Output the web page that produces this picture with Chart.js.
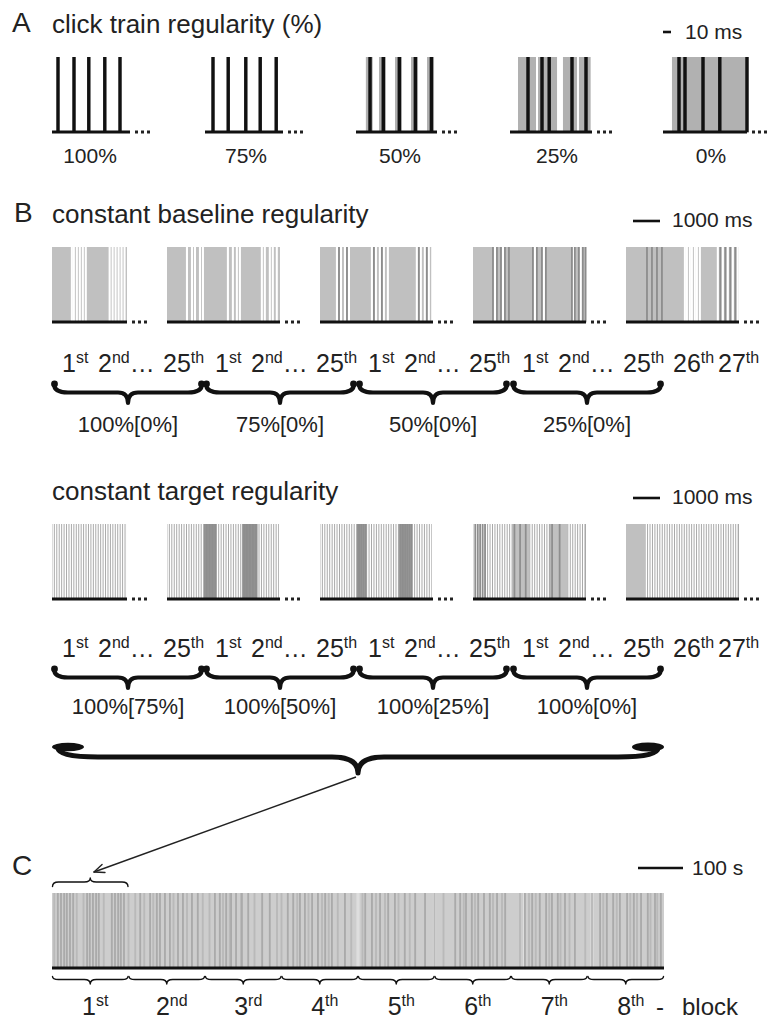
<!DOCTYPE html>
<html>
<head>
<meta charset="utf-8">
<script src="https://cdn.jsdelivr.net/npm/chart.js@4.4.0/dist/chart.umd.min.js"></script>
<style>
html, body { margin: 0; padding: 0; background: #fff; }
#page { position: relative; width: 770px; height: 1019px; overflow: hidden;
        font-family: "Liberation Sans", Arial, sans-serif; color: #222; }
.t { position: absolute; white-space: nowrap; line-height: 1; }
.c { transform: translateX(-50%); }
.t sup { font-size: 0.64em; vertical-align: 0; position: relative; top: -0.55em; }
canvas.train { position: absolute; }
svg { position: absolute; left: 0; top: 0; pointer-events: none; }
</style>
</head>
<body>
<div id="page"></div>
<script>
// ---- A: one click train per regularity level, times in ms ----
const regLevels = ['100%', '75%', '50%', '25%', '0%'];
const aDuration = [97.5, 97.5, 101, 102.5, 105];
const aClicks = [
    [7.5, 27.5, 46, 66, 85],
    [10, 29, 51, 69, 89],
    [17.5, 34, 54, 74, 94],
    [22.5, 40, 49, 77.5, 95],
    [20, 27.5, 50, 71, 105]
];
// grey = range the clicks can jitter in
const aJitter = [
    [],
    [],
    [[12, 21], [28.5, 37.5], [48.5, 57.5], [68.5, 77.5], [88.5, 97.5]],
    [[10, 32.5], [35, 59], [66, 84], [86, 101]],
    [[11, 105]]
];

// ---- B: trains in a block, times in ms ----
const groupTrains = ['1st', '2nd…', '25th'];
const extraTrains = ['26th', '27th'];
const bDuration = [2000, 3000, 3000, 3000, 3000];
const baselineGroups = ['100%[0%]', '75%[0%]', '50%[0%]', '25%[0%]'];
const targetGroups = ['100%[75%]', '100%[50%]', '100%[25%]', '100%[0%]'];

const baseWhite = [
    [530, 583, 663, 742, 822, 901, 1537, 1617, 1696, 1776, 1855, 1935],
    [530, 663, 742, 875, 954, 1617, 1749, 1855, 1935, 2518, 2597, 2730, 2809, 2915],
    [450, 557, 663, 769, 1378, 1484, 1590, 1696, 1802, 2571, 2677, 2783, 2889, 2980],
    [583, 795, 1643, 1882, 2677, 2862],
    [1564, 1617, 1696, 1749, 1829, 1882, 1961, 2438, 2571, 2703, 2836, 2968]
];
const baseDark = [
    [],
    [],
    [504, 716, 1431, 1643, 2624, 2836],
    [530, 636, 742, 848, 954, 1590, 1696, 1829, 1935, 2624, 2703, 2809, 2915, 2990],
    [557, 689, 822, 954, 2504, 2637, 2769, 2902]
];
const targetWhite = [
    [30, 95, 160, 225, 290, 355, 420, 485, 550, 615, 680, 745, 810, 875, 940, 1005, 1070, 1135, 1200, 1265,
     1330, 1395, 1460, 1525, 1590, 1655, 1720, 1785, 1850, 1915, 1980],
    [30, 95, 160, 225, 290, 355, 420, 485, 550, 615, 680, 745, 810, 875, 940, 1030, 1110, 1190, 1270, 1340,
     1405, 1470, 1535, 1600, 1665, 1730, 1795, 1860, 1925, 1990, 2410, 2475, 2540, 2605, 2670, 2735, 2800,
     2865, 2930, 2990],
    [30, 95, 160, 225, 290, 355, 420, 485, 550, 615, 680, 745, 810, 875, 940, 1270, 1335, 1400, 1465, 1530,
     1595, 1660, 1725, 1790, 1855, 1920, 1985, 2050, 2480, 2545, 2610, 2675, 2740, 2805, 2870, 2935, 2990],
    [30, 95, 160, 225, 290, 355, 420, 485, 550, 615, 680, 745, 810, 875, 940, 1005, 1540, 1605, 1670, 1735,
     1800, 1865, 1930, 1995, 2550, 2615, 2680, 2745, 2810, 2875, 2940],
    [540, 605, 670, 735, 800, 865, 930, 995, 1060, 1125, 1190, 1255, 1320, 1385, 1450, 1515, 1580, 1645,
     1710, 1775, 1840, 1905, 1970, 2035, 2100, 2165, 2230, 2295, 2360, 2425, 2490, 2555, 2620, 2685, 2750,
     2815, 2880, 2945]
];
const targetDark = [
    [],
    [1010, 1050, 1090, 1130, 1170, 1210, 1250, 1290, 2020, 2060, 2100, 2140, 2180, 2220, 2260, 2300, 2340, 2380],
    [1010, 1060, 1110, 1160, 1210, 2130, 2180, 2230, 2280, 2330, 2380, 2430],
    [60, 125, 190, 255, 320, 1100, 1250, 1400, 2100, 2300],
    []
];
// grey blocks within the target trains that look like plain 0% segments
const targetSolid = [[], [], [], [[1040, 1510], [2050, 2520]], [[0, 510]]];

// ---- C: whole session, times in s ----
const blockNames = ['1st', '2nd', '3rd', '4th', '5th', '6th', '7th', '8th'];
const blockLen = 170;
const cDark = [13, 20, 27, 33, 40, 47, 78, 84, 91, 98, 104, 133, 140, 147, 153, 160, 196, 218, 233, 240,
    251, 262, 280, 291, 311, 324, 362, 373, 387, 398, 409, 422, 436, 467, 484, 524, 536, 551, 562, 578, 591,
    607, 622, 651, 696, 711, 729, 747, 762, 784, 807, 829, 896, 907, 920, 933, 947, 960, 973, 989, 1007,
    1051, 1067, 1084, 1098, 1111, 1124, 1140, 1162, 1218, 1233, 1247, 1262, 1278, 1293, 1309, 1324, 1340, 1353];
const cMid = [5, 55, 70, 115, 170, 185, 205, 225, 270, 300, 335, 350, 380, 395, 420, 450, 500, 510, 545, 570,
    600, 615, 635, 665, 690, 720, 740, 770, 795, 850, 870, 915, 940, 980, 1000, 1040, 1060, 1075, 1105, 1130,
    1150, 1185, 1200, 1225, 1255, 1285, 1300, 1330, 1345];
const cLight = [680, 850, 1050, 1200];

// ---------------------------------------------------------------
const page = document.getElementById('page');
const svgParts = [];

function sup(label) {
    return label.replace(/^(\d+)(st|nd|rd|th)/, '$1<sup>$2</sup>');
}

function addText(html, x, baseline, size, center) {
    const d = document.createElement('div');
    d.className = 't' + (center ? ' c' : '');
    d.style.fontSize = size + 'px';
    d.style.left = x + 'px';
    d.style.top = (baseline - 0.8465 * size) + 'px';
    d.innerHTML = html;
    page.appendChild(d);
}

function lineBars(times, color, thickness, order) {
    return {
        type: 'bar',
        data: times.map(t => ({ x: t, y: 1 })),
        backgroundColor: color,
        barThickness: thickness,
        grouped: false,
        borderWidth: 0,
        order: order,
        clip: false
    };
}

function rangeFill(r, color, order) {
    return {
        type: 'line', data: [{ x: r[0], y: 1 }, { x: r[1], y: 1 }], fill: 'origin',
        backgroundColor: color, borderColor: color, borderWidth: 0.01,
        pointRadius: 0, order: order
    };
}

function trainChart(spec) {
    const cv = document.createElement('canvas');
    cv.className = 'train';
    cv.width = spec.width + 4;
    cv.height = spec.height + 3;
    cv.style.left = (spec.left - 2) + 'px';
    cv.style.top = spec.top + 'px';
    page.appendChild(cv);

    const datasets = [];
    (spec.ranges || []).forEach(r => datasets.push(rangeFill(r, spec.fill, 7)));
    if (spec.light) datasets.push(lineBars(spec.light, spec.lightColor, spec.lightWidth, 6));
    if (spec.mid) datasets.push(lineBars(spec.mid, '#b9b9b9', 1.2, 5));
    if (spec.white) datasets.push(lineBars(spec.white, '#ffffff', spec.whiteWidth || 1.4, 4));
    (spec.solid || []).forEach(r => datasets.push(rangeFill(r, spec.solidColor, 3)));
    if (spec.dark) datasets.push(lineBars(spec.dark, spec.darkColor || '#8c8c8c', spec.darkWidth || 1.1, 2));
    if (spec.clicks) datasets.push(lineBars(spec.clicks, '#111', 2.8, 1));
    // baseline
    datasets.push({
        type: 'line', data: [{ x: 0, y: 0 }, { x: spec.duration, y: 0 }],
        borderColor: '#111', borderWidth: 3, pointRadius: 0, fill: false, order: 0, clip: false
    });

    return new Chart(cv, {
        type: 'bar',
        data: { datasets: datasets },
        options: {
            responsive: false,
            animation: false,
            devicePixelRatio: 1,
            events: [],
            layout: { padding: { left: 2, right: 2, top: 0, bottom: 3 } },
            plugins: { legend: { display: false }, tooltip: { enabled: false } },
            scales: {
                x: { type: 'linear', min: 0, max: spec.duration, display: false, offset: false },
                y: { type: 'linear', min: 0, max: 1, display: false }
            }
        }
    });
}

function dots(x, y) {
    for (let k = 0; k < 3; k++) {
        svgParts.push(`<rect x="${x + 5 + k * 6}" y="${y - 1.5}" width="3" height="3" fill="#222"/>`);
    }
}

function brace(x1, x2, yEnd, yMid, yTip, rEnd, rTip, w) {
    const c = (x1 + x2) / 2;
    const d = `M${x1} ${yEnd} Q${x1} ${yMid} ${x1 + rEnd} ${yMid} L${c - rTip} ${yMid} Q${c} ${yMid} ${c} ${yTip} ` +
              `Q${c} ${yMid} ${c + rTip} ${yMid} L${x2 - rEnd} ${yMid} Q${x2} ${yMid} ${x2} ${yEnd}`;
    svgParts.push(`<path d="${d}" fill="none" stroke="#111" stroke-width="${w}" stroke-linecap="round" stroke-linejoin="round"/>`);
}

function hbar(x1, x2, y) {
    svgParts.push(`<line x1="${x1}" y1="${y}" x2="${x2}" y2="${y}" stroke="#111" stroke-width="2.6"/>`);
}

// ---------------- panel A ----------------
addText('A', 12, 33, 28);
addText('click train regularity (%)', 52, 33, 26);
hbar(663, 671, 32);
addText('10 ms', 685, 39, 21);

const aLeft = [52, 205, 356, 510, 663];
const aCenter = [90, 246, 400, 557, 711];
const A_PX_PER_MS = 0.8;
aClicks.forEach((clicks, i) => {
    const w = Math.round(aDuration[i] * A_PX_PER_MS);
    trainChart({
        left: aLeft[i], top: 57, width: w, height: 75, duration: aDuration[i],
        ranges: aJitter[i], fill: '#b1b1b1', clicks: clicks
    });
    dots(aLeft[i] + w, 132);
    addText(regLevels[i], aCenter[i], 163, 21, true);
});

// ---------------- panel B ----------------
const bLeft = [52, 167, 320, 473, 626];
const B_PX_PER_MS = 0.0377;
const groupStart = [62, 215, 368, 522];
const tokenOffset = [0, 36, 101];
const braceSpan = [[53, 203], [205, 355], [358, 508], [512, 662]];

function bRow(top, white, dark, solid, look, labelBase, braceY, groupLabels, groupLabelBase) {
    bDuration.forEach((dur, i) => {
        const w = Math.round(dur * B_PX_PER_MS);
        trainChart({
            left: bLeft[i], top: top, width: w, height: 75, duration: dur,
            ranges: [[0, dur]], fill: look.fill, white: white[i], whiteWidth: look.whiteWidth,
            solid: solid[i], solidColor: look.solidColor,
            dark: dark[i], darkColor: look.darkColor
        });
        dots(bLeft[i] + w, top + 75);
    });
    groupStart.forEach(g => {
        groupTrains.forEach((lab, k) => addText(sup(lab), g + tokenOffset[k], labelBase, 25));
    });
    addText(sup(extraTrains[0]), 673, labelBase, 25);
    addText(sup(extraTrains[1]), 718, labelBase, 25);
    braceSpan.forEach((s, k) => {
        brace(s[0] + 1, s[1] - 1, braceY, braceY + 8.5, braceY + 19, 14, 10, 4.2);
        svgParts.push(`<circle cx="${s[0] + 1.5}" cy="${braceY}" r="3.4" fill="#111"/>`);
        svgParts.push(`<circle cx="${s[1] - 1.5}" cy="${braceY}" r="3.4" fill="#111"/>`);
        addText(groupLabels[k], (s[0] + s[1]) / 2, groupLabelBase, 22, true);
    });
}

addText('B', 14, 223, 28);
addText('constant baseline regularity', 52, 223, 26);
hbar(633, 660, 221);
addText('1000 ms', 672, 227, 21);
bRow(247, baseWhite, baseDark, [[], [], [], [], []],
     { fill: '#c0c0c0', whiteWidth: 1.4, darkColor: '#8c8c8c', solidColor: '#c0c0c0' },
     372, 384, baselineGroups, 433);

addText('constant target regularity', 52, 500, 26);
hbar(633, 660, 498);
addText('1000 ms', 672, 504, 21);
bRow(524, targetWhite, targetDark, targetSolid,
     { fill: '#a9a9a9', whiteWidth: 0.8, darkColor: '#8e8e8e', solidColor: '#c0c0c0' },
     657, 669, targetGroups, 715);

// big brace over the whole block
brace(58, 658, 748, 757, 773, 40, 26, 5);
svgParts.push('<ellipse cx="68" cy="747" rx="16" ry="4.2" fill="#111"/>');
svgParts.push('<ellipse cx="648" cy="747" rx="16" ry="4.6" fill="#111"/>');

// ---------------- panel C ----------------
addText('C', 12, 876, 28);
const cTotal = blockLen * blockNames.length;
const cChart = trainChart({
    left: 52, top: 893, width: 612, height: 75, duration: cTotal,
    ranges: [[0, cTotal]], fill: '#cdcdcd',
    light: cLight, lightColor: '#dedede', lightWidth: 2.5,
    mid: cMid, dark: cDark, darkColor: '#aaaaaa', darkWidth: 1.2
});
const cx = s => 50 + cChart.scales.x.getPixelForValue(s);

// scale bar 100 s, taken from the C time axis
const barLen = cx(100) - cx(0);
hbar(683 - barLen, 683, 868);
addText('100 s', 692, 875, 21);

// block braces and labels
blockNames.forEach((name, i) => {
    const x1 = cx(i * blockLen), x2 = cx((i + 1) * blockLen);
    brace(x1 + 0.5, x2 - 0.5, 976.5, 979.5, 984, 6, 6, 1.4);
    addText(sup(name), (x1 + x2) / 2 + 5, 1015, 25, true);
});
addText('-', 656, 1015, 24);
addText('block', 682, 1015, 24);

// zoomed block brace (cusp up) and arrow
brace(cx(0) + 0.5, cx(blockLen) - 0.5, 886.5, 882, 878, 6, 6, 1.4);
(function () {
    const x1 = 356, y1 = 777, x2 = 94, y2 = 872;
    svgParts.push(`<line x1="${x1}" y1="${y1}" x2="${x2}" y2="${y2}" stroke="#222" stroke-width="1.4"/>`);
    const ang = Math.atan2(y1 - y2, x1 - x2);
    [-0.4, 0.4].forEach(da => {
        const hx = x2 + 11 * Math.cos(ang + da), hy = y2 + 11 * Math.sin(ang + da);
        svgParts.push(`<line x1="${x2}" y1="${y2}" x2="${hx}" y2="${hy}" stroke="#222" stroke-width="1.4" stroke-linecap="round"/>`);
    });
})();

page.insertAdjacentHTML('beforeend',
    `<svg width="770" height="1019" viewBox="0 0 770 1019">${svgParts.join('')}</svg>`);
</script>
</body>
</html>
